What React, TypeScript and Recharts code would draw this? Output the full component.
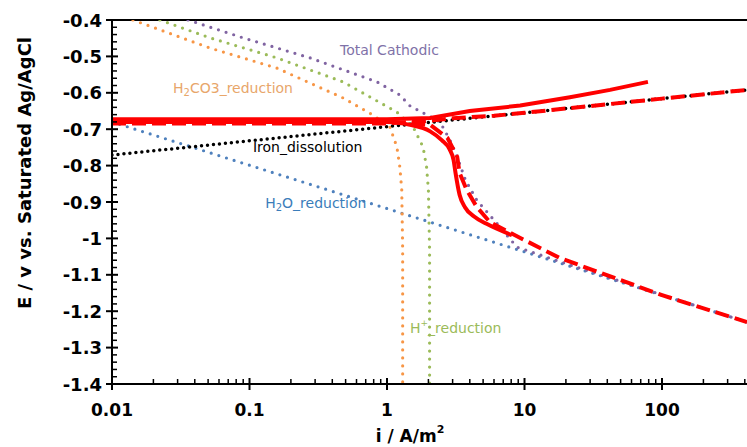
import React from "react";
import {
  LineChart,
  Line,
  XAxis,
  YAxis,
  ReferenceLine,
  ReferenceDot,
} from "recharts";

// log-scale current density (A/m2) vs potential (V vs Ag/AgCl)
const xMajorTicks = [0.01, 0.1, 1, 10, 100];
const xTickLabels = ["0.01", "0.1", "1", "10", "100"];
const yMajorTicks = [-1.4, -1.3, -1.2, -1.1, -1, -0.9, -0.8, -0.7, -0.6, -0.5, -0.4];
const yTickLabels = ["-1.4", "-1.3", "-1.2", "-1.1", "-1", "-0.9", "-0.8", "-0.7", "-0.6", "-0.5", "-0.4"];

const h2co3I = [0.0142, 0.0516, 0.158, 0.275, 0.479, 0.79, 1.05, 1.18, 1.24, 1.28, 1.3, 1.3];
const h2co3E = [-0.4, -0.477, -0.532, -0.573, -0.614, -0.661, -0.694, -0.749, -0.804, -0.867, -1.032, -1.4];

const hPlusI = [0.0223, 0.0516, 0.158, 0.479, 1.18, 1.55, 1.83, 1.94, 2.0, 2.04, 2.04];
const hPlusE = [-0.4, -0.449, -0.504, -0.57, -0.653, -0.694, -0.749, -0.804, -0.867, -1.032, -1.4];

const totalI = [0.0357, 0.0899, 0.275, 0.846, 1.24, 1.47, 2.43, 2.87, 3.24, 3.72, 4.5, 6.64, 8.81, 21.4, 100, 415];
const totalE = [-0.4, -0.449, -0.504, -0.57, -0.606, -0.636, -0.68, -0.73, -0.776, -0.84, -0.895, -0.969, -1.024, -1.073, -1.155, -1.23];

const h2oI = [0.01, 0.1, 1, 10, 100, 415];
const h2oE = [-0.68, -0.799, -0.918, -1.037, -1.156, -1.23];

const ironI = [0.01, 0.1, 1, 10, 100, 415];
const ironE = [-0.771, -0.732, -0.693, -0.655, -0.616, -0.592];

// measured curve (solid red)
const expAnodicI = [0.01, 0.1, 1, 2.06, 4.0, 9.3, 21.4, 41.9, 79];
const expAnodicE = [-0.673, -0.673, -0.673, -0.669, -0.65, -0.635, -0.612, -0.592, -0.57];
const expCathodicI = [0.01, 0.1, 1, 1.47, 2.06, 2.5, 2.85, 3.05, 3.15, 3.37, 3.7, 4.3, 5.3, 8.1];
const expCathodicE = [-0.68, -0.68, -0.68, -0.688, -0.706, -0.73, -0.755, -0.785, -0.82, -0.88, -0.915, -0.94, -0.96, -0.991];

// model curve (dashed red)
const modelAnodicI = [0.01, 0.1, 1, 2, 3, 6, 10, 100, 415];
const modelAnodicE = [-0.684, -0.684, -0.684, -0.677, -0.67, -0.663, -0.655, -0.616, -0.592];
const modelCathodicI = [1.5, 2.06, 2.75, 3.24, 3.37, 3.8, 4.5, 5.6, 7.9, 18.1, 100, 415];
const modelCathodicE = [-0.684, -0.688, -0.724, -0.776, -0.82, -0.867, -0.914, -0.955, -0.985, -1.054, -1.156, -1.23];

const toPoints = (is: number[], es: number[]) => is.map((i, k) => ({ i, E: es[k] }));

const xMinorTicks: number[] = [];
[0.01, 0.1, 1, 10, 100].forEach((d) => {
  for (let m = 1; m <= 9; m++) {
    const v = +(d * m).toPrecision(3);
    if (v <= 415) xMinorTicks.push(v);
  }
});
const yAllTicks: number[] = [];
for (let k = 0; k <= 50; k++) yAllTicks.push(Math.round((-1.4 + 0.02 * k) * 100) / 100);

const FONT = "DejaVu Sans";

function XTick(props: any) {
  const { x, y, payload } = props;
  const idx = xMajorTicks.indexOf(payload.value);
  const major = idx >= 0;
  return (
    <g>
      <path d={`M${x},${major ? y - 6 : y - 5}L${x},${major ? y + 6 : y}`} stroke="#000" strokeWidth={major ? 2 : 1.5} />
      {major && (
        <text x={x} y={y + 26} textAnchor="middle" dominantBaseline="central" fontFamily={FONT} fontWeight="bold" fontSize={17} fill="#000">
          {xTickLabels[idx]}
        </text>
      )}
    </g>
  );
}

function YTick(props: any) {
  const { x, y, payload } = props;
  const idx = yMajorTicks.findIndex((t) => Math.abs(t - payload.value) < 1e-6);
  const major = idx >= 0;
  return (
    <g>
      <path d={`M${major ? x - 6 : x},${y}L${major ? x + 6 : x + 5},${y}`} stroke="#000" strokeWidth={major ? 2 : 1.5} />
      {major && (
        <text x={x - 10} y={y} textAnchor="end" dominantBaseline="central" fontFamily={FONT} fontWeight="bold" fontSize={18} fill="#000">
          {yTickLabels[idx]}
        </text>
      )}
    </g>
  );
}

function anno(content: React.ReactNode, color: string) {
  return (p: any) => {
    const vb = p.viewBox || {};
    const cx = vb.x + (vb.width || 0) / 2;
    const cy = vb.y + (vb.height || 0) / 2;
    return (
      <text x={cx} y={cy} dominantBaseline="central" fontFamily={FONT} fontSize={14} fill={color}>
        {content}
      </text>
    );
  };
}

const dotted = { strokeDasharray: "0 8", strokeLinecap: "round" as const, strokeWidth: 3.2 };

export default function App() {
  return (
    <div style={{ position: "absolute", left: 0, top: 0, width: 747, height: 447, background: "#fff" }}>
      <LineChart width={747} height={447} margin={{ top: 20, right: 0, bottom: 0, left: 0 }}>
        <XAxis
          type="number"
          dataKey="i"
          scale="log"
          domain={[0.01, 415]}
          allowDataOverflow
          ticks={xMinorTicks}
          interval={0}
          height={63}
          tickSize={0}
          tickMargin={0}
          tickLine={false}
          axisLine={{ stroke: "#000", strokeWidth: 2 }}
          tick={(p: any) => <XTick {...p} />}
          label={() => (
            <text x={410} y={436} textAnchor="middle" dominantBaseline="central" fontFamily={FONT} fontWeight="bold" fontSize={17} fill="#000">
              i / A/m<tspan fontSize={11} dy={-7}>2</tspan>
            </text>
          )}
        />
        <YAxis
          type="number"
          dataKey="E"
          domain={[-1.4, -0.4]}
          allowDataOverflow
          ticks={yAllTicks}
          interval={0}
          width={112}
          tickSize={0}
          tickMargin={0}
          tickLine={false}
          axisLine={{ stroke: "#000", strokeWidth: 2 }}
          tick={(p: any) => <YTick {...p} />}
          label={() => (
            <text
              x={24}
              y={173}
              transform="rotate(-90 24 173)"
              textAnchor="middle"
              dominantBaseline="central"
              fontFamily={FONT}
              fontWeight="bold"
              fontSize={18}
              fill="#000"
            >
              E / v vs. Saturated Ag/AgCl
            </text>
          )}
        />
        <ReferenceLine y={-0.4} stroke="#000" strokeWidth={2} />

        <Line data={toPoints(h2oI, h2oE)} dataKey="E" stroke="#4F81BD" {...dotted} dot={false} activeDot={false} isAnimationActive={false} />
        <Line data={toPoints(h2co3I, h2co3E)} dataKey="E" stroke="#F79646" {...dotted} dot={false} activeDot={false} isAnimationActive={false} />
        <Line data={toPoints(hPlusI, hPlusE)} dataKey="E" stroke="#9BBB59" {...dotted} dot={false} activeDot={false} isAnimationActive={false} />
        <Line data={toPoints(totalI, totalE)} dataKey="E" stroke="#8064A2" {...dotted} dot={false} activeDot={false} isAnimationActive={false} />
        <Line data={toPoints(ironI, ironE)} dataKey="E" stroke="#000" strokeWidth={3.5} strokeDasharray="0 6" strokeLinecap="round" dot={false} activeDot={false} isAnimationActive={false} />

        <Line data={toPoints(modelAnodicI, modelAnodicE)} dataKey="E" stroke="#FF0000" strokeWidth={4} strokeDasharray="14 6" dot={false} activeDot={false} isAnimationActive={false} />
        <Line data={toPoints(modelCathodicI, modelCathodicE)} dataKey="E" stroke="#FF0000" strokeWidth={4} strokeDasharray="14 6" dot={false} activeDot={false} isAnimationActive={false} />
        <Line data={toPoints(expAnodicI, expAnodicE)} dataKey="E" stroke="#FF0000" strokeWidth={4} dot={false} activeDot={false} isAnimationActive={false} />
        <Line data={toPoints(expCathodicI, expCathodicE)} type="monotone" dataKey="E" stroke="#FF0000" strokeWidth={4} dot={false} activeDot={false} isAnimationActive={false} />

        <ReferenceDot x={0.455} y={-0.482} r={2} fill="none" stroke="none" label={anno("Total Cathodic", "#7F72A8")} />
        <ReferenceDot
          x={0.0278}
          y={-0.587}
          r={2}
          fill="none"
          stroke="none"
          label={anno(
            <>
              H<tspan fontSize={10} dy={4}>2</tspan>
              <tspan dy={-4}>CO3_reduction</tspan>
            </>,
            "#E8A66A"
          )}
        />
        <ReferenceDot x={0.106} y={-0.749} r={2} fill="none" stroke="none" label={anno("Iron_dissolution", "#000")} />
        <ReferenceDot
          x={0.13}
          y={-0.903}
          r={2}
          fill="none"
          stroke="none"
          label={anno(
            <>
              H<tspan fontSize={10} dy={4}>2</tspan>
              <tspan dy={-4}>O_reduction</tspan>
            </>,
            "#3A7DBA"
          )}
        />
        <ReferenceDot
          x={1.47}
          y={-1.246}
          r={2}
          fill="none"
          stroke="none"
          label={anno(
            <>
              H<tspan fontSize={9} dy={-5}>+</tspan>
              <tspan dy={5}>_reduction</tspan>
            </>,
            "#9BBB59"
          )}
        />
      </LineChart>
    </div>
  );
}
